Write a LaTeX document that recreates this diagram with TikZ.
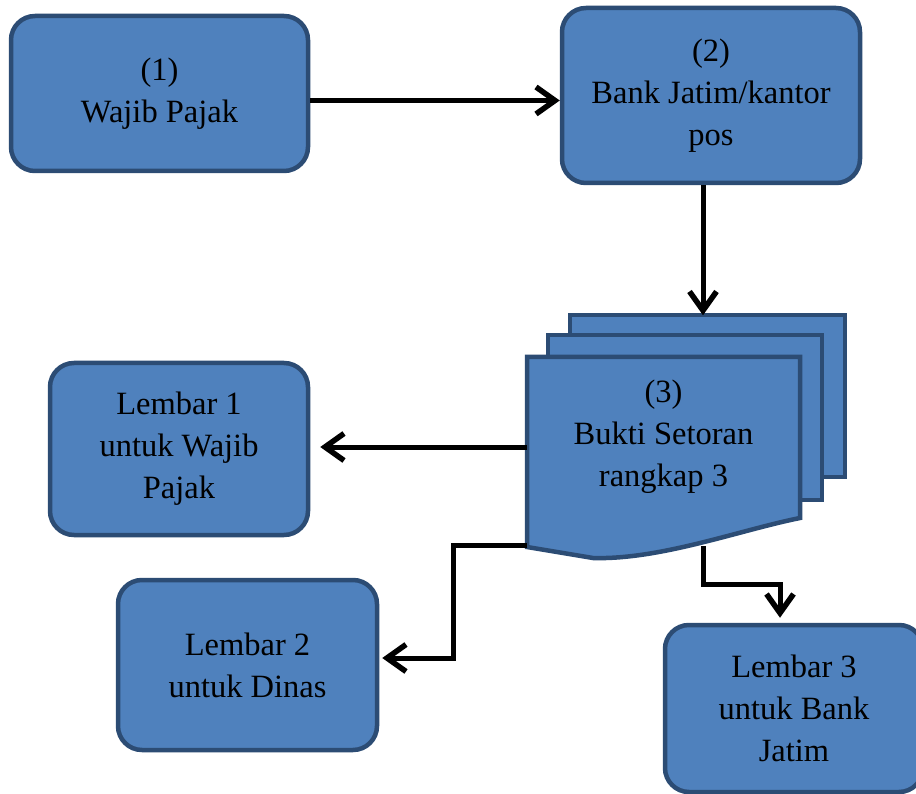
\documentclass[tikz,border=0pt]{standalone}
\usepackage{fontspec}
\setmainfont{Liberation Serif}
\usetikzlibrary{arrows.meta}
\definecolor{fillc}{HTML}{4F81BD}
\definecolor{bordc}{HTML}{2C4C74}
\begin{document}
\begin{tikzpicture}[x=1pt,y=-1pt,
  box/.style={draw=bordc, fill=fillc, line width=4.5pt, rounded corners=24pt,
    align=center, font=\fontsize{32.5}{42}\selectfont, inner sep=0pt},
  docshape/.style={draw=bordc, fill=fillc, line width=4.5pt, line join=miter},
  arr/.style={line width=5pt, -{Straight Barb[length=19pt,width=27pt,line width=5.5pt]}},
  lbl/.style={align=center, font=\fontsize{32.5}{42}\selectfont, inner sep=0pt}]
\useasboundingbox (0,0) rectangle (916,794);
\fill[white] (0,0) rectangle (916,794);
% boxes
\node[box, minimum width=297pt, minimum height=155pt] (b1) at (159.5,93.5) {(1)\\Wajib Pajak};
\node[box, minimum width=298pt, minimum height=175pt] (b2) at (711,95.5) {(2)\\Bank Jatim/kantor\\pos};
\node[box, minimum width=258pt, minimum height=172pt] (l1) at (179,449) {Lembar 1\\untuk Wajib\\Pajak};
\node[box, minimum width=259pt, minimum height=170pt] (l2) at (247.5,665) {Lembar 2\\untuk Dinas};
\node[box, minimum width=258pt, minimum height=167pt] (l3) at (794,708.5) {Lembar 3\\untuk Bank\\Jatim};
% multi-document
\draw[docshape] (570,315) rectangle (845,477);
\draw[docshape] (548,335) rectangle (822,500);
\draw[docshape] (527,357) -- (800,357) -- (800,518)
  .. controls (740,530) and (660,560) .. (593,558) -- (527,547) -- cycle;
\node[lbl, minimum width=273pt, minimum height=160pt] (doc) at (663.5,437) {(3)\\Bukti Setoran\\rangkap 3};
\coordinate (d2) at (527,545);
\coordinate (d3) at (703,546);
% connectors
\draw[arr] ([yshift=-7pt]b1.east) -- ([yshift=-7pt]b1.east -| b2.west);
\draw[arr] ([xshift=-8pt]b2.south) -- ++(0,130);
\draw[arr, shorten >=10pt] ([yshift=-10pt]doc.west) -- ([yshift=-10pt]doc.west -| l1.east);
\draw[arr, shorten >=3pt] (d2) -- (453,545) |- ([yshift=7pt]l2.east);
\draw[arr, shorten >=5pt] (d3) |- (780,584) -- ([xshift=-14pt]l3.north);
\end{tikzpicture}
\end{document}
